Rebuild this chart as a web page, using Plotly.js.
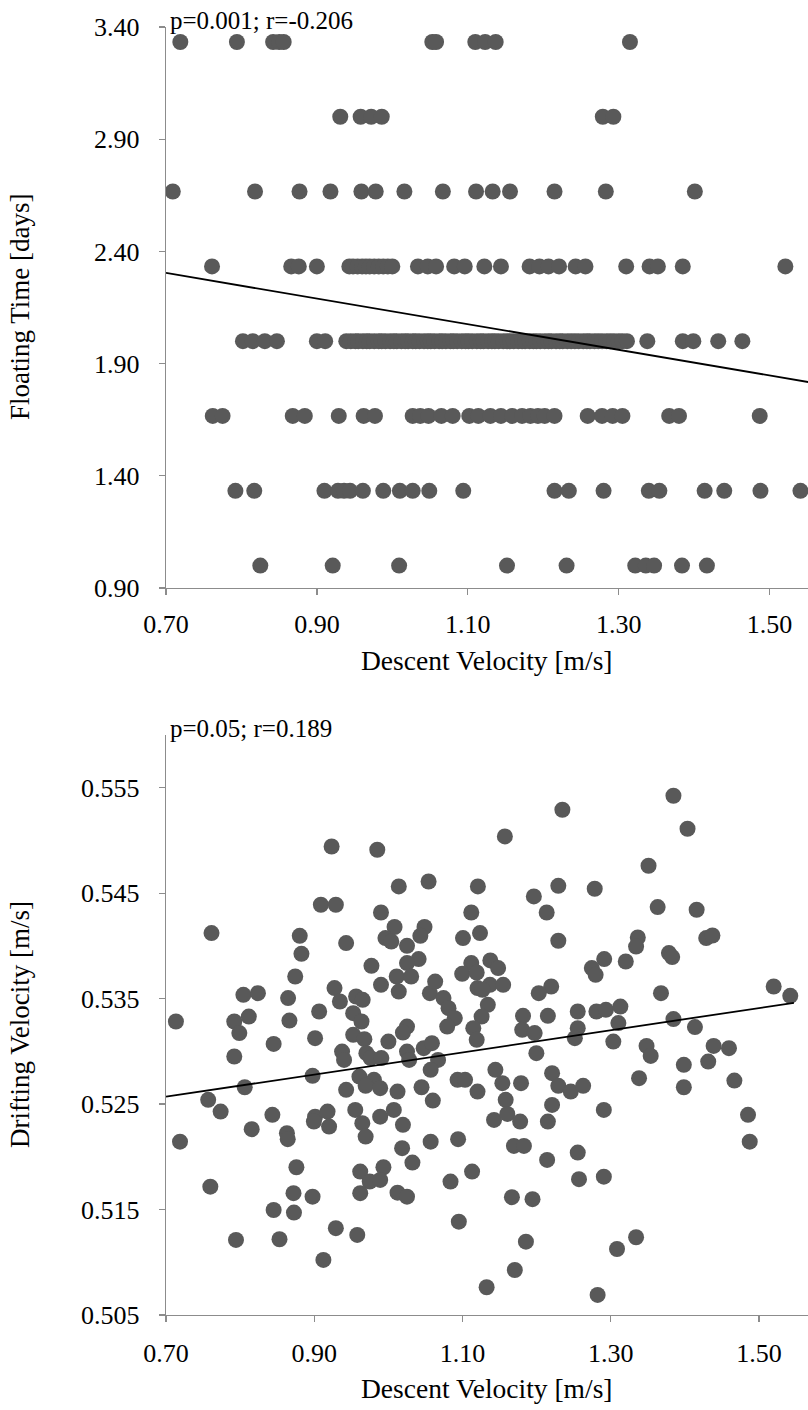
<!DOCTYPE html>
<html>
<head>
<meta charset="utf-8">
<script src="https://cdn.plot.ly/plotly-3.0.1.min.js"></script>
<style>html,body{margin:0;padding:0;background:#fff;}#chart{width:808px;height:1410px;}</style>
</head>
<body>
<div id="chart"></div>
<script>
// ---------- Top chart: Floating Time [days] vs Descent Velocity [m/s] ----------
const floatLevels = [3.333, 3.000, 2.667, 2.333, 2.000, 1.667, 1.333, 1.000];
const velAt3_33 = [0.719, 0.794, 0.842, 0.850, 0.856, 1.053, 1.058, 1.110, 1.123, 1.137, 1.315];
const velAt3_00 = [0.931, 0.958, 0.972, 0.986, 1.279, 1.293];
const velAt2_67 = [0.709, 0.818, 0.877, 0.918, 0.959, 0.978, 1.016, 1.067, 1.111, 1.133, 1.156, 1.215, 1.283, 1.401];
const velAt2_33 = [0.761, 0.866, 0.876, 0.900, 0.943, 0.948, 0.954, 0.960, 0.965, 0.970, 0.976, 0.982, 0.988, 0.994, 1.000, 1.034, 1.047, 1.058, 1.082, 1.096, 1.122, 1.144, 1.182, 1.195, 1.207, 1.221, 1.243, 1.256, 1.310, 1.341, 1.352, 1.385, 1.521];
const velAt2_00 = [0.802, 0.815, 0.831, 0.847, 0.900, 0.911,
  0.939, 0.945, 0.951, 0.955, 0.961, 0.966, 0.970, 0.976, 0.982, 0.986, 0.991, 0.997, 1.002, 1.006, 1.012, 1.017, 1.021, 1.027, 1.031, 1.036, 1.042, 1.047, 1.051, 1.056, 1.062, 1.066, 1.071, 1.077, 1.081, 1.086, 1.092, 1.097, 1.101, 1.106, 1.112, 1.117, 1.121, 1.127, 1.132, 1.136, 1.141, 1.147, 1.152, 1.156, 1.161, 1.167, 1.172, 1.176, 1.182, 1.187, 1.191, 1.196, 1.202, 1.207, 1.211, 1.217, 1.222, 1.226, 1.232, 1.237, 1.242, 1.247, 1.253, 1.258, 1.262, 1.268, 1.273, 1.278, 1.284, 1.289, 1.294, 1.300, 1.305, 1.311,
  1.338, 1.385, 1.399, 1.432, 1.464];
const velAt1_67 = [0.762, 0.775, 0.868, 0.884, 0.929, 0.962, 0.977, 1.027, 1.037, 1.048, 1.065, 1.080, 1.102, 1.114, 1.130, 1.144, 1.159, 1.172, 1.183, 1.193, 1.202, 1.215, 1.259, 1.278, 1.292, 1.305, 1.367, 1.380, 1.487];
const velAt1_33 = [0.792, 0.817, 0.910, 0.928, 0.936, 0.944, 0.961, 0.988, 1.010, 1.027, 1.049, 1.094, 1.215, 1.234, 1.280, 1.340, 1.354, 1.414, 1.440, 1.488, 1.541];
const velAt1_00 = [0.825, 0.921, 1.009, 1.152, 1.231, 1.322, 1.336, 1.347, 1.384, 1.417];
const topTrendX = [0.70, 1.56];
const topTrendY = [2.304, 1.813];
const topStatText = "p=0.001; r=-0.206";

// ---------- Bottom chart: Drifting Velocity [m/s] vs Descent Velocity [m/s] ----------
const descentVel = [
  0.9234, 0.9850, 1.1571, 1.2347, 1.3845, 1.4035, 1.3509,
  1.0140, 1.0542, 1.1207, 1.1962, 1.2292, 1.2783, 0.9089, 0.9291, 0.9900, 1.1118, 1.2135, 1.3632, 1.4158,
  0.7614, 0.8804, 1.0083, 1.0487, 0.9960, 1.0039, 1.0251, 1.0431, 1.1006, 1.1236, 1.2292, 1.3364, 1.3341,
  1.4287, 1.4371, 0.8827, 0.9430, 1.3784, 1.3828, 0.9771, 1.0408, 1.0251, 1.1118, 1.1375, 1.1480, 1.0995,
  1.1191, 1.2911, 1.3202, 1.2744, 1.2795, 0.8743, 1.0112, 1.0307,
  0.9900, 0.9273, 1.1370, 1.1548, 1.1202, 1.2196, 1.5197, 1.0140, 0.8044, 0.8240, 0.8647, 0.9346, 0.9564,
  0.9653, 1.0560, 1.0743, 1.1268, 1.2028, 1.3677, 1.5421, 0.7134, 0.7921, 0.8117, 0.7989, 0.8665, 0.9066,
  0.9525, 0.9637, 1.0811, 1.0895, 1.0793, 1.1341, 1.1257, 1.1145, 1.1191, 1.1816, 1.2151, 1.1805, 1.1973,
  1.2554, 1.2806, 1.2934, 1.3129, 1.3102, 1.2554, 1.2515, 1.3845, 1.4135, 1.3034, 1.3482, 1.3538, 1.4387,
  1.4594, 1.4314, 1.3985, 0.8452, 0.9011, 0.7921, 0.9525, 0.9676, 1.0000, 1.0251, 1.0196, 0.9375, 0.9402,
  0.9703, 0.9760, 0.9905, 1.0251, 1.0280, 1.0476, 1.0587, 1.0670, 1.0570, 1.1996, 1.1443, 1.1537, 1.0933,
  1.1034, 1.1789, 1.2208, 1.2292, 1.2460, 1.2627, 1.3381, 1.3985, 1.4667, 0.8977, 0.8062, 0.9609, 0.9805,
  0.9693, 0.9889, 0.9430, 1.0123, 1.0447, 1.1202, 1.0631,
  0.7569, 0.7737, 0.8435, 0.8156, 0.7189, 0.8631, 0.8642, 0.9011, 0.8995, 0.9179, 0.9200, 0.9553, 0.9648,
  0.9693, 0.9889, 1.0073, 1.0196, 1.0599, 1.1582, 1.1425, 1.1604, 1.1777, 1.2208, 1.2151, 1.2906, 1.4851,
  1.4874, 1.0185, 1.0570, 1.0940, 1.1693, 1.1828, 1.2554, 1.2141, 1.0324, 0.8759, 0.9620, 0.9933, 0.9748,
  0.9889, 1.1129, 1.0838, 1.2571, 1.2906, 0.7598, 0.8720, 0.8977, 0.9620, 1.0123, 1.0251, 1.1666, 1.1944,
  0.8452, 0.8726, 0.7944, 0.8531, 0.9291, 0.9580, 0.9123, 1.0950, 1.1855, 1.1705, 1.1325, 1.3084, 1.3341, 1.2822
];
const driftVel = [
  0.54943, 0.54912, 0.55038, 0.55291, 0.55424, 0.55111, 0.54760,
  0.54564, 0.54611, 0.54564, 0.54469, 0.54570, 0.54542, 0.54390, 0.54390, 0.54317, 0.54317, 0.54317, 0.54368, 0.54343,
  0.54122, 0.54096, 0.54179, 0.54179, 0.54074, 0.54042, 0.54001, 0.54096, 0.54074, 0.54122, 0.54049, 0.54080, 0.53994,
  0.54074, 0.54099, 0.53925, 0.54027, 0.53932, 0.53894, 0.53811, 0.53875, 0.53837, 0.53837, 0.53862, 0.53790, 0.53735,
  0.53748, 0.53875, 0.53852, 0.53790, 0.53726, 0.53710, 0.53710, 0.53710,
  0.53631, 0.53600, 0.53631, 0.53631, 0.53600, 0.53615, 0.53615, 0.53567, 0.53536, 0.53552, 0.53505, 0.53473, 0.53520,
  0.53489, 0.53552, 0.53505, 0.53584, 0.53552, 0.53552, 0.53527, 0.53283, 0.53283, 0.53330, 0.53173, 0.53292, 0.53378,
  0.53362, 0.53283, 0.53410, 0.53315, 0.53235, 0.53441, 0.53330, 0.53220, 0.53109, 0.53337, 0.53337, 0.53204, 0.53173,
  0.53378, 0.53378, 0.53394, 0.53425, 0.53268, 0.53220, 0.53125, 0.53306, 0.53230, 0.53093, 0.53052, 0.52957, 0.53052,
  0.53030, 0.52903, 0.52872, 0.53071, 0.53125, 0.52951, 0.53157, 0.53116, 0.53093, 0.53235, 0.53178, 0.52998, 0.52919,
  0.52983, 0.52936, 0.52936, 0.52998, 0.52919, 0.53030, 0.53078, 0.52919, 0.52825, 0.52983, 0.52825, 0.52698, 0.52730,
  0.52730, 0.52698, 0.52793, 0.52673, 0.52619, 0.52673, 0.52746, 0.52660, 0.52723, 0.52768, 0.52660, 0.52761, 0.52730,
  0.52673, 0.52651, 0.52635, 0.52619, 0.52660, 0.52619, 0.53662,
  0.52540, 0.52429, 0.52398, 0.52262, 0.52144, 0.52224, 0.52167, 0.52381, 0.52334, 0.52429, 0.52287, 0.52445, 0.52319,
  0.52192, 0.52381, 0.52445, 0.52303, 0.52533, 0.52540, 0.52350, 0.52407, 0.52334, 0.52492, 0.52334, 0.52445, 0.52398,
  0.52144, 0.52082, 0.52144, 0.52167, 0.52103, 0.52103, 0.52040, 0.51971, 0.51945, 0.51901, 0.51860, 0.51901, 0.51765,
  0.51781, 0.51860, 0.51765, 0.51788, 0.51812, 0.51717, 0.51655, 0.51622, 0.51655, 0.51660, 0.51622, 0.51617, 0.51598,
  0.51496, 0.51471, 0.51212, 0.51218, 0.51323, 0.51259, 0.51022, 0.51385, 0.51195, 0.50927, 0.50763, 0.51126, 0.51237, 0.50690
];
const botTrendX = [0.70, 1.547];
const botTrendY = [0.5257, 0.5346];
const botStatText = "p=0.05; r=0.189";

const xTickVals = [0.70, 0.90, 1.10, 1.30, 1.50];
const xTitle = "Descent Velocity [m/s]";
const yTitleTop = "Floating Time [days]";
const yTitleBot = "Drifting Velocity [m/s]";

// build top scatter from the rows
const rows = [velAt3_33, velAt3_00, velAt2_67, velAt2_33, velAt2_00, velAt1_67, velAt1_33, velAt1_00];
const topX = [], topY = [];
rows.forEach((r, i) => r.forEach(v => { topX.push(v); topY.push(floatLevels[i]); }));

const W = 808, H = 1410, L = 166;
const FONT = "Liberation Serif, Times New Roman, serif";
const markerStyle = {color: '#595959', size: 16, line: {width: 0}};
const axisCommon = {
  showline: true, linecolor: '#8c8c8c', linewidth: 1.3,
  ticks: 'outside', ticklen: 6, tickcolor: '#8c8c8c', tickwidth: 1.3,
  showgrid: false, zeroline: false,
  tickfont: {family: FONT, size: 26, color: '#000'}
};

const data = [
  {x: topX, y: topY, xaxis: 'x', yaxis: 'y', mode: 'markers', type: 'scatter', marker: markerStyle},
  {x: topTrendX, y: topTrendY, xaxis: 'x', yaxis: 'y', mode: 'lines', type: 'scatter', line: {color: '#000', width: 1.8}},
  {x: descentVel, y: driftVel, xaxis: 'x2', yaxis: 'y2', mode: 'markers', type: 'scatter', marker: markerStyle},
  {x: botTrendX, y: botTrendY, xaxis: 'x2', yaxis: 'y2', mode: 'lines', type: 'scatter', line: {color: '#000', width: 1.8}}
];

const py = p => 1 - p / H;   // pixel row -> paper y
const px = p => (p - L) / (W - L); // pixel column -> paper x

const layout = {
  width: W, height: H,
  margin: {l: L, r: 0, t: 0, b: 0},
  showlegend: false,
  paper_bgcolor: '#fff', plot_bgcolor: '#fff',
  font: {family: FONT, color: '#000'},
  xaxis: Object.assign({}, axisCommon, {domain: [0, 1], anchor: 'y', range: [0.70, 1.551], tickvals: xTickVals, tickformat: '.2f', ticklabelstandoff: 6}),
  yaxis: Object.assign({}, axisCommon, {domain: [py(588), py(27)], anchor: 'x', range: [0.90, 3.40], tick0: 0.90, dtick: 0.5, tickformat: '.2f', ticklabelstandoff: 14}),
  xaxis2: Object.assign({}, axisCommon, {domain: [0, 1], anchor: 'y2', range: [0.70, 1.566], tickvals: xTickVals, tickformat: '.2f', ticklabelstandoff: 8}),
  yaxis2: Object.assign({}, axisCommon, {domain: [py(1315), py(735)], anchor: 'x2', range: [0.505, 0.56], tick0: 0.505, dtick: 0.01, tickformat: '.3f', ticklabelstandoff: 14}),
  annotations: [
    {text: topStatText, xref: 'paper', yref: 'paper', x: px(168), y: py(21), xanchor: 'left', yanchor: 'middle', showarrow: false, font: {family: FONT, size: 25, color: '#000'}},
    {text: botStatText, xref: 'paper', yref: 'paper', x: px(168), y: py(728), xanchor: 'left', yanchor: 'middle', showarrow: false, font: {family: FONT, size: 25, color: '#000'}},
    {text: xTitle, xref: 'paper', yref: 'paper', x: 0.5, y: py(660), xanchor: 'center', yanchor: 'middle', showarrow: false, font: {family: FONT, size: 27.5, color: '#000'}},
    {text: xTitle, xref: 'paper', yref: 'paper', x: 0.5, y: py(1388), xanchor: 'center', yanchor: 'middle', showarrow: false, font: {family: FONT, size: 27.5, color: '#000'}},
    {text: yTitleTop, xref: 'paper', yref: 'paper', x: px(20), y: py(307), xanchor: 'center', yanchor: 'middle', textangle: -90, showarrow: false, font: {family: FONT, size: 27, color: '#000'}},
    {text: yTitleBot, xref: 'paper', yref: 'paper', x: px(20), y: py(1025), xanchor: 'center', yanchor: 'middle', textangle: -90, showarrow: false, font: {family: FONT, size: 27, color: '#000'}}
  ]
};

Plotly.newPlot('chart', data, layout, {displayModeBar: false, staticPlot: true});
</script>
</body>
</html>
